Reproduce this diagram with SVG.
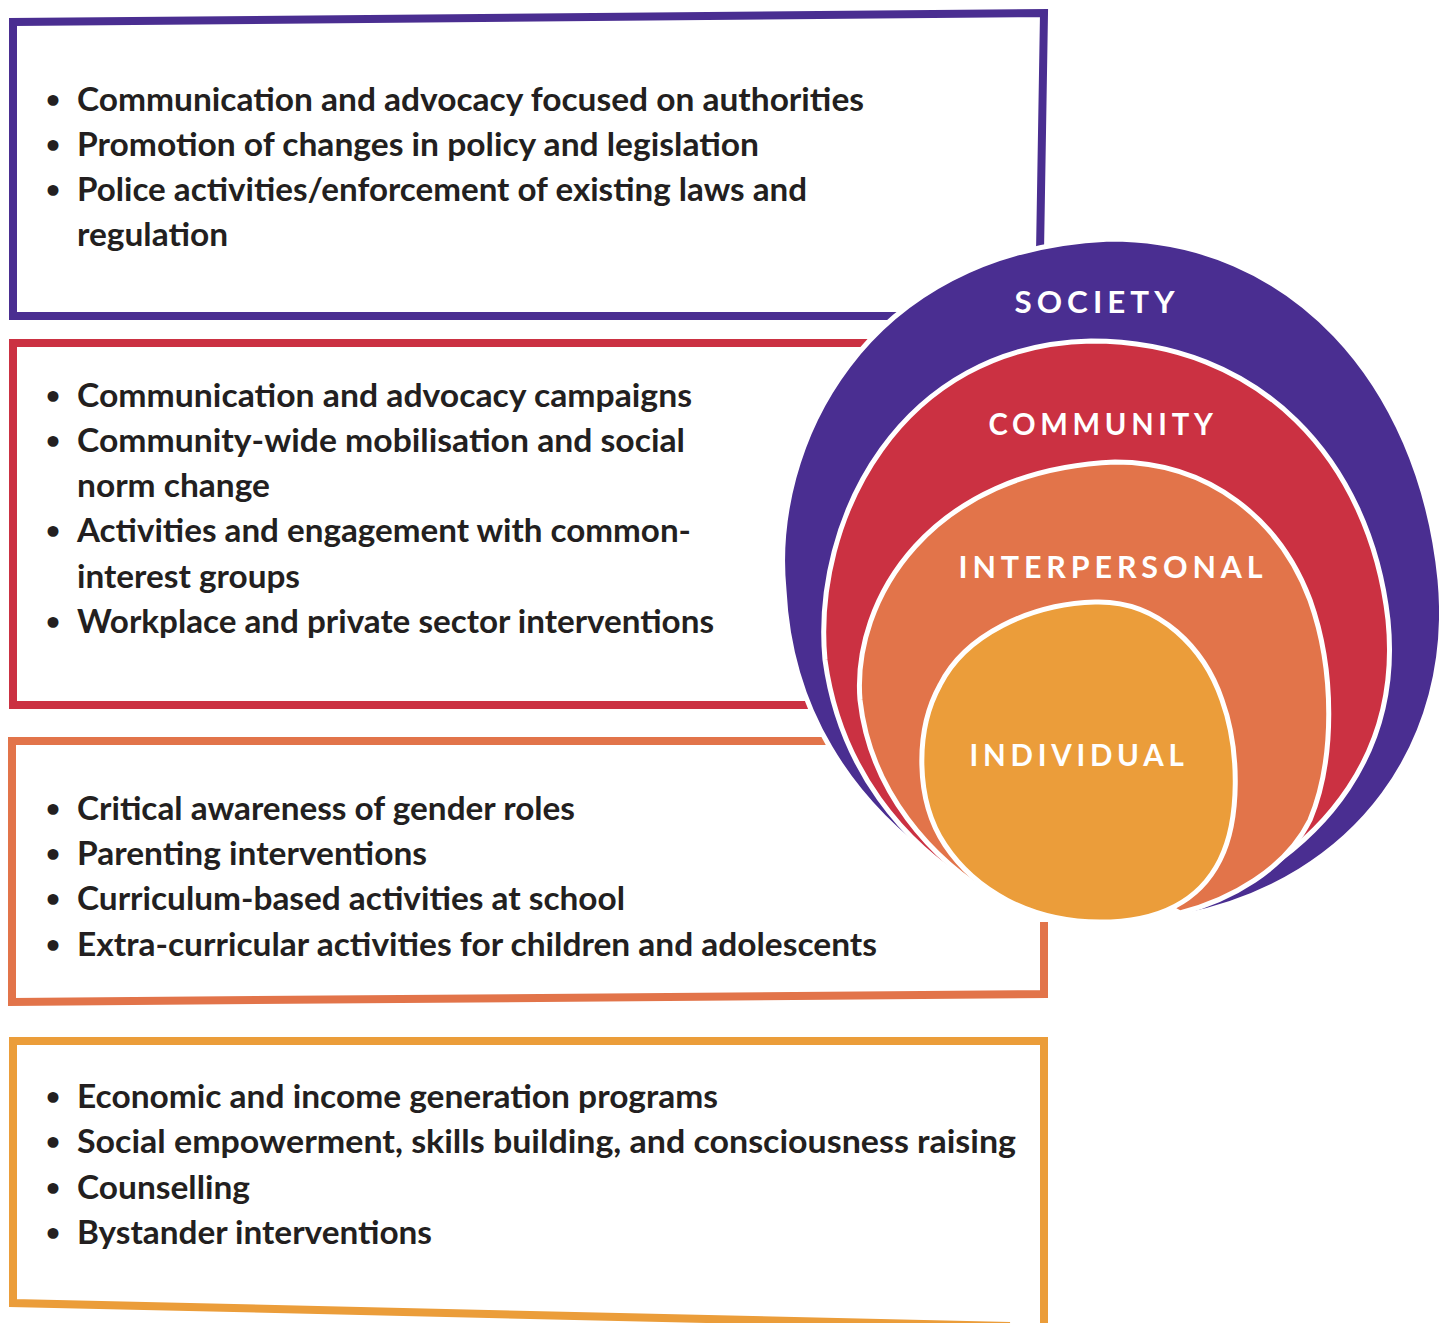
<svg xmlns="http://www.w3.org/2000/svg" width="1439" height="1323" viewBox="0 0 1439 1323">
<style>
.frame{fill:none;stroke-width:8;stroke-linejoin:miter;stroke-linecap:butt}
.t{font-family:Lato,"Source Sans Pro","Noto Sans",sans-serif;font-weight:700;font-size:33px;fill:#231F20}
.b{font-family:Lato,"Noto Sans",sans-serif;font-weight:700;font-size:25px;fill:#231F20;text-anchor:middle}
.ring{stroke:#FFFFFF;stroke-width:5;stroke-linejoin:round}
.lbl{font-family:Lato,"DejaVu Sans",sans-serif;font-weight:700;font-size:31px;fill:#FFFFFF;text-anchor:middle}
</style>
<rect x="0" y="0" width="1439" height="1323" fill="#FFFFFF"/>

<g id="box-society">
<path class="frame" stroke="#4A2E91" d="M 900 316 L 13 316 L 13 22 L 1044 13 L 1040 252"/>
<text class="b" x="53" y="108">•</text>
<text class="t" x="77" y="111" textLength="787" lengthAdjust="spacingAndGlyphs">Communication and advocacy focused on authorities</text>
<text class="b" x="53" y="153">•</text>
<text class="t" x="77" y="156" textLength="682" lengthAdjust="spacingAndGlyphs">Promotion of changes in policy and legislation</text>
<text class="b" x="53" y="198">•</text>
<text class="t" x="77" y="201" textLength="730" lengthAdjust="spacingAndGlyphs">Police activities/enforcement of existing laws and</text>
<text class="t" x="77" y="246" textLength="151" lengthAdjust="spacingAndGlyphs">regulation</text>
</g>

<g id="box-community">
<path class="frame" stroke="#CB3142" d="M 880 343 L 13 343 L 13 705 L 830 705"/>
<text class="b" x="53" y="404">•</text>
<text class="t" x="77" y="407" textLength="615" lengthAdjust="spacingAndGlyphs">Communication and advocacy campaigns</text>
<text class="b" x="53" y="449">•</text>
<text class="t" x="77" y="452" textLength="608" lengthAdjust="spacingAndGlyphs">Community-wide mobilisation and social</text>
<text class="t" x="77" y="497" textLength="193" lengthAdjust="spacingAndGlyphs">norm change</text>
<text class="b" x="53" y="539">•</text>
<text class="t" x="77" y="542" textLength="614" lengthAdjust="spacingAndGlyphs">Activities and engagement with common-</text>
<text class="t" x="77" y="588" textLength="223" lengthAdjust="spacingAndGlyphs">interest groups</text>
<text class="b" x="53" y="630">•</text>
<text class="t" x="77" y="633" textLength="637" lengthAdjust="spacingAndGlyphs">Workplace and private sector interventions</text>
</g>

<g id="box-interpersonal">
<path class="frame" stroke="#E2744A" d="M 850 741 L 12 741 L 12 1002 L 1044 994 L 1044 922"/>
<text class="b" x="53" y="817">•</text>
<text class="t" x="77" y="820" textLength="498" lengthAdjust="spacingAndGlyphs">Critical awareness of gender roles</text>
<text class="b" x="53" y="862">•</text>
<text class="t" x="77" y="865" textLength="350" lengthAdjust="spacingAndGlyphs">Parenting interventions</text>
<text class="b" x="53" y="907">•</text>
<text class="t" x="77" y="910" textLength="548" lengthAdjust="spacingAndGlyphs">Curriculum-based activities at school</text>
<text class="b" x="53" y="953">•</text>
<text class="t" x="77" y="956" textLength="800" lengthAdjust="spacingAndGlyphs">Extra-curricular activities for children and adolescents</text>
</g>

<g id="box-individual">
<path class="frame" stroke="#EB9D3A" d="M 1044 1330 L 1044 1041 L 13 1041 L 13 1303 L 1010 1326"/>
<text class="b" x="53" y="1105">•</text>
<text class="t" x="77" y="1108" textLength="641" lengthAdjust="spacingAndGlyphs">Economic and income generation programs</text>
<text class="b" x="53" y="1150">•</text>
<text class="t" x="77" y="1153" textLength="939" lengthAdjust="spacingAndGlyphs">Social empowerment, skills building, and consciousness raising</text>
<text class="b" x="53" y="1196">•</text>
<text class="t" x="77" y="1199" textLength="173" lengthAdjust="spacingAndGlyphs">Counselling</text>
<text class="b" x="53" y="1241">•</text>
<text class="t" x="77" y="1244" textLength="355" lengthAdjust="spacingAndGlyphs">Bystander interventions</text>
</g>

<g id="ring-society">
<path class="ring" fill="#4A2E91" d="M 1110 239 C 1290 239, 1420 380, 1440 580 C 1455 740, 1360 880, 1183 916 L 1080 860 L 938 863 C 850 800, 790 710, 784 590 C 770 450, 860 250, 1110 239 Z"/>
<text class="lbl" x="1097" y="313" textLength="165" lengthAdjust="spacingAndGlyphs" letter-spacing="5">SOCIETY</text>
</g>
<g id="ring-community">
<path class="ring" fill="#CB3142" d="M 1091 341 C 1260 341, 1370 460, 1388 620 C 1400 740, 1340 850, 1180 914 L 1080 860 L 975 886 C 905 845, 840 770, 825 660 C 812 520, 900 345, 1091 341 Z"/>
<text class="lbl" x="1103" y="435" textLength="229" lengthAdjust="spacingAndGlyphs" letter-spacing="5">COMMUNITY</text>
</g>
<g id="ring-interpersonal">
<path class="ring" fill="#E2744A" d="M 1115 462 C 1210 462, 1280 520, 1310 600 C 1335 670, 1335 760, 1310 820 C 1285 870, 1230 900, 1180 913 L 1080 860 L 1000 900 C 930 860, 870 790, 860 700 C 852 600, 930 470, 1115 462 Z"/>
<text class="lbl" x="1113" y="578" textLength="309" lengthAdjust="spacingAndGlyphs" letter-spacing="5">INTERPERSONAL</text>
</g>
<g id="ring-individual">
<path class="ring" fill="#EB9D3A" d="M 1095 602 C 1160 600, 1205 650, 1222 700 C 1240 750, 1240 820, 1220 860 C 1200 900, 1160 922, 1100 922 C 1030 922, 975 890, 945 845 C 915 800, 915 730, 940 685 C 965 635, 1030 604, 1095 602 Z"/>
<text class="lbl" x="1079" y="766" textLength="219" lengthAdjust="spacingAndGlyphs" letter-spacing="5">INDIVIDUAL</text>
</g>
</svg>
